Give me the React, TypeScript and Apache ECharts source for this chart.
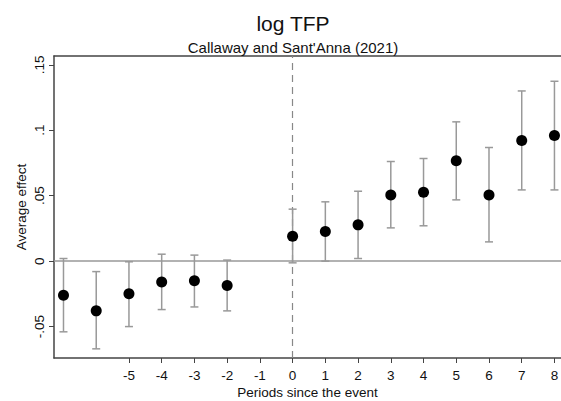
import React, { useEffect, useRef } from "react";
import * as echarts from "echarts";

const periods = [-7, -6, -5, -4, -3, -2, 0, 1, 2, 3, 4, 5, 6, 7, 8];
const estimates = [-0.026, -0.038, -0.025, -0.016, -0.015, -0.0186, 0.019, 0.0227, 0.0277, 0.0506, 0.0527, 0.0766, 0.0506, 0.0921, 0.096];
const upper = [0.002, -0.008, -0.0005, 0.0053, 0.0046, 0.0008, 0.0397, 0.0453, 0.0534, 0.0761, 0.0784, 0.1064, 0.0868, 0.130, 0.1374];
const lower = [-0.054, -0.067, -0.050, -0.037, -0.035, -0.038, -0.0013, 0.0, 0.002, 0.0254, 0.027, 0.0468, 0.0147, 0.0544, 0.0544];
const xTicks = [-5, -4, -3, -2, -1, 0, 1, 2, 3, 4, 5, 6, 7, 8];
const yTicks = [-0.05, 0, 0.05, 0.1, 0.15];
const yTickLabels = ["-.05", "0", ".05", ".1", ".15"];

export default function App() {
  const ref = useRef<HTMLDivElement>(null);
  useEffect(() => {
    if (!ref.current) return;
    const chart = echarts.init(ref.current, null, { renderer: "svg" });
    const font = "Liberation Sans, Arial, sans-serif";
    const axisColor = "#444";
    chart.setOption({
      animation: false,
      backgroundColor: "#fff",
      textStyle: { fontFamily: font },
      title: [
        {
          text: "log TFP",
          left: 288,
          top: 8,
          textAlign: "center",
          textStyle: { fontFamily: font, fontSize: 21, fontWeight: "normal", color: "#111" },
        },
        {
          text: "Callaway and Sant'Anna (2021)",
          left: 288,
          top: 35,
          textAlign: "center",
          textStyle: { fontFamily: font, fontSize: 15, fontWeight: "normal", color: "#111" },
        },
      ],
      grid: { left: 54, top: 56, right: 0, bottom: 43, outerBoundsMode: "none", containLabel: false },
      xAxis: [
        {
          type: "value",
          min: -7.29,
          max: 8.2,
          name: "Periods since the event",
          nameLocation: "middle",
          nameGap: 27,
          nameMoveOverlap: false,
          nameTextStyle: { fontFamily: font, fontSize: 13.5, color: "#111", verticalAlign: "top" },
          axisLine: { show: true, onZero: false, lineStyle: { color: axisColor, width: 1.5 } },
          axisTick: { show: true, length: 5, customValues: xTicks, lineStyle: { color: axisColor } },
          axisLabel: { customValues: xTicks, fontFamily: font, fontSize: 13.5, color: "#111", margin: 10 },
          splitLine: { show: false },
        },
        {
          type: "value",
          position: "top",
          min: -7.29,
          max: 8.2,
          axisLine: { show: true, onZero: false, lineStyle: { color: axisColor, width: 1.5 } },
          axisTick: { show: false },
          axisLabel: { show: false },
          splitLine: { show: false },
        },
      ],
      yAxis: {
        type: "value",
        min: -0.074,
        max: 0.1567,
        name: "Average effect",
        nameLocation: "middle",
        nameGap: 26,
        nameMoveOverlap: false,
        nameTextStyle: { fontFamily: font, fontSize: 13.5, color: "#111" },
        axisLine: { show: true, onZero: false, lineStyle: { color: axisColor, width: 1.5 } },
        axisTick: { show: true, length: 5, customValues: yTicks, lineStyle: { color: axisColor } },
        axisLabel: {
          customValues: yTicks,
          rotate: 90,
          fontFamily: font,
          fontSize: 13.5,
          color: "#111",
          margin: 8,
          formatter: (v: number) => {
            const i = yTicks.findIndex((t) => Math.abs(t - v) < 1e-6);
            return i >= 0 ? yTickLabels[i] : "";
          },
        },
        splitLine: { show: false },
      },
      series: [
        {
          type: "custom",
          xAxisIndex: 0,
          data: periods.map((p, i) => [p, lower[i], upper[i]]),
          renderItem: (params: any, api: any) => {
            const x = api.value(0);
            const lo = api.coord([x, api.value(1)]);
            const hi = api.coord([x, api.value(2)]);
            const cap = 4;
            const style = { stroke: "#999", lineWidth: 1.5, fill: "none" };
            return {
              type: "group",
              children: [
                { type: "line", shape: { x1: lo[0], y1: lo[1], x2: hi[0], y2: hi[1] }, style },
                { type: "line", shape: { x1: lo[0] - cap, y1: lo[1], x2: lo[0] + cap, y2: lo[1] }, style },
                { type: "line", shape: { x1: hi[0] - cap, y1: hi[1], x2: hi[0] + cap, y2: hi[1] }, style },
              ],
            };
          },
          z: 2,
        },
        {
          type: "scatter",
          xAxisIndex: 0,
          data: periods.map((p, i) => [p, estimates[i]]),
          symbol: "circle",
          symbolSize: 11,
          itemStyle: { color: "#000", opacity: 1 },
          z: 3,
          markLine: {
            silent: true,
            symbol: "none",
            label: { show: false },
            z: 1,
            data: [
              { yAxis: 0, lineStyle: { color: "#999", type: "solid", width: 1.5 } },
              { xAxis: 0, lineStyle: { color: "#888", type: [7, 5], width: 1.2 } },
            ],
          },
        },
      ],
    });
    return () => chart.dispose();
  }, []);
  return (
    <div
      ref={ref}
      style={{ position: "fixed", left: 0, top: 0, width: 561, height: 401, background: "#fff" }}
    />
  );
}
